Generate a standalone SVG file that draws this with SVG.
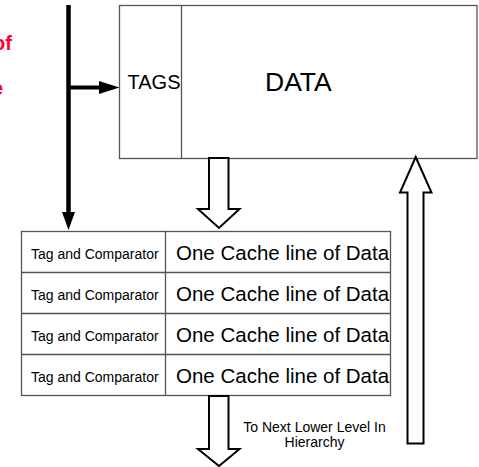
<svg xmlns="http://www.w3.org/2000/svg" width="479" height="467" viewBox="0 0 479 467">
<style>
text{font-family:"Liberation Sans",Arial,sans-serif;fill:#000}
.box{fill:#fff;stroke:#555;stroke-width:1.3}
.ln{stroke:#555;stroke-width:1.3;fill:none}
.blk{fill:#fff;stroke:#000;stroke-width:2;stroke-linejoin:miter}
.red{fill:#ff0033;font-weight:bold;font-size:20px}
.small{font-size:14px}
.big{font-size:20.5px}
</style>
<rect width="479" height="467" fill="#fff"/>
<text class="red" x="12" y="50" text-anchor="end">of</text>
<text class="red" x="3" y="95" text-anchor="end">e</text>
<g id="cache">
<rect class="box" x="119.5" y="5.5" width="357.5" height="153"/>
<line class="ln" x1="181.5" y1="5.5" x2="181.5" y2="158.5"/>
<text x="127.5" y="89" font-size="20">TAGS</text>
<text x="265" y="91" font-size="26.5">DATA</text>
</g>
<g id="table">
<rect class="box" x="21.5" y="231.5" width="369" height="164"/>
<line class="ln" x1="21.5" y1="272.5" x2="390.5" y2="272.5"/>
<line class="ln" x1="21.5" y1="313.5" x2="390.5" y2="313.5"/>
<line class="ln" x1="21.5" y1="354.5" x2="390.5" y2="354.5"/>
<line class="ln" x1="165.5" y1="231.5" x2="165.5" y2="395.5"/>
<text class="small" x="31" y="259">Tag and Comparator</text>
<text class="small" x="31" y="300">Tag and Comparator</text>
<text class="small" x="31" y="341">Tag and Comparator</text>
<text class="small" x="31" y="382">Tag and Comparator</text>
<text class="big" x="176" y="260">One Cache line of Data</text>
<text class="big" x="176" y="301">One Cache line of Data</text>
<text class="big" x="176" y="342">One Cache line of Data</text>
<text class="big" x="176" y="383">One Cache line of Data</text>
</g>
<g id="label">
<text x="314.5" y="432" font-size="14" text-anchor="middle">To Next Lower Level In</text>
<text x="314.5" y="447" font-size="14" text-anchor="middle">Hierarchy</text>
</g>
<g id="connectors">
<line x1="68.5" y1="5" x2="68.5" y2="213" stroke="#000" stroke-width="4.5"/>
<polygon points="62,212 75,212 68.5,230" fill="#000"/>
<line x1="68.5" y1="87.5" x2="101" y2="87.5" stroke="#000" stroke-width="4"/>
<polygon points="99,81 99,94 119.5,87.5" fill="#000"/>
<polygon class="blk" points="209,158 228.5,158 228.5,209 239.5,209 219,228 198,209 209,209"/>
<polygon class="blk" points="209,396 228.5,396 228.5,449 239.5,449 219,466 198,449 209,449"/>
<polygon class="blk" points="415.7,157 431.5,192.5 423.5,192.5 423.5,443.5 407.5,443.5 407.5,192.5 400,192.5"/>
</g>
</svg>
